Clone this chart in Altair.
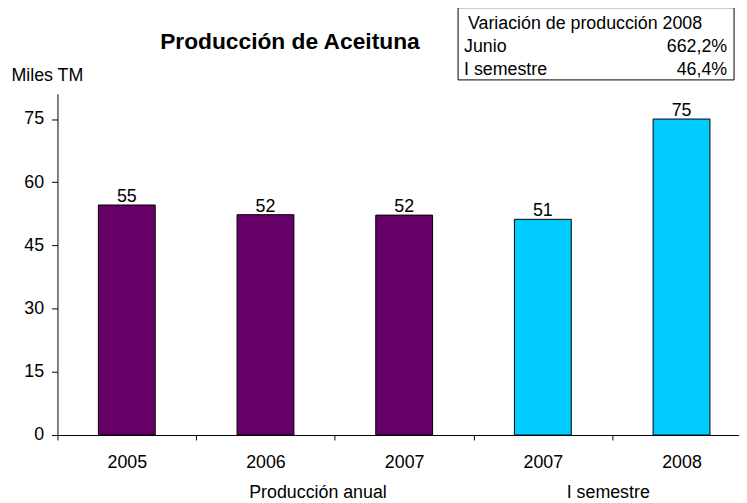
import json
import altair as alt
import pandas as pd

# ---- data ----
years = ["2005", "2006", "2007", "2007", "2008"]
values = [54.6, 52.3, 52.2, 51.2, 75.0]
groups = ["Producción anual", "Producción anual", "Producción anual", "I semestre", "I semestre"]
group_names = ["Producción anual", "I semestre"]
group_colors = ["#660066", "#00CCFF"]
y_ticks = [0, 15, 30, 45, 60, 75]

chart_title = "Producción de Aceituna"
table_header = "Variación de producción 2008"
table_rows = ["Junio", "I semestre"]
table_vals = ["662,2%", "46,4%"]

FONT = "Liberation Sans"
FS = 18

df = pd.DataFrame({"idx": list(range(len(years))), "year": years, "value": values, "group": groups})

label_expr = json.dumps(years).replace('"', "'") + "[datum.value]"

x_enc = alt.X(
    "idx:O",
    scale=alt.Scale(paddingInner=0, paddingOuter=0, range=[0, 701]),
    axis=alt.Axis(
        title=None, labelAngle=0, labelExpr=label_expr, tickBand="extent",
        tickSize=5, labelPadding=14, labelFontSize=FS, labelFont=FONT,
        labelColor="black", domainColor="black", tickColor="black", grid=False,
    ),
)
y_enc = alt.Y(
    "value:Q",
    scale=alt.Scale(domain=[0, 81], nice=False),
    axis=alt.Axis(
        values=y_ticks, tickSize=6, labelPadding=8, labelFontSize=FS, labelFont=FONT,
        labelColor="black", domainColor="black", tickColor="black", grid=False,
        title="Miles TM", titleAngle=0, titleAlign="left", titleBaseline="alphabetic",
        titleX=-47, titleY=-13, titleFontSize=FS, titleFont=FONT, titleFontWeight="normal",
        titleColor="black",
    ),
)

base = alt.Chart(df)

bars = base.mark_bar(width=alt.RelativeBandSize(0.41), stroke="black", strokeWidth=1).encode(
    x=x_enc,
    y=y_enc,
    color=alt.Color("group:N", scale=alt.Scale(domain=group_names, range=group_colors), legend=None),
)

labels = base.mark_text(baseline="alphabetic", dy=-3, fontSize=FS, font=FONT, color="black").encode(
    x=alt.X("idx:O"),
    y=alt.Y("value:Q"),
    text=alt.Text("value:Q", format=".0f"),
)

# group labels under the axis
gdf = pd.DataFrame({"idx": [2, 4], "label": group_names, "shift": [-17, -4]})
group_layers = []
for i in range(len(group_names)):
    sub = gdf.iloc[[i]]
    group_layers.append(
        alt.Chart(sub).mark_text(baseline="alphabetic", align="center", fontSize=FS, font=FONT,
                                 color="black", dx=int(sub["shift"].iloc[0])).encode(
            x=alt.X("idx:O", bandPosition=0),
            y=alt.value(409),
            text="label:N",
        )
    )

# chart title
title_df = pd.DataFrame({"t": [chart_title]})
title_layer = alt.Chart(title_df).mark_text(
    align="center", baseline="alphabetic", fontSize=23, font=FONT, fontWeight="bold", color="black"
).encode(x=alt.value(235), y=alt.value(-45), text="t:N")

# table box at top right
box_df = pd.DataFrame({"t": [table_header]})
box = alt.Chart(box_df).mark_rect(fill="white", stroke="black", strokeWidth=1).encode(
    x=alt.value(405), x2=alt.value(684), y=alt.value(-87), y2=alt.value(-14)
)
header = alt.Chart(box_df).mark_text(align="left", baseline="alphabetic", fontSize=FS, font=FONT,
                                      color="black").encode(
    x=alt.value(415), y=alt.value(-65), text="t:N"
)
row_layers = []
row_y = [-42, -19]
for i, (r, v) in enumerate(zip(table_rows, table_vals)):
    rdf = pd.DataFrame({"r": [r], "v": [v]})
    row_layers.append(
        alt.Chart(rdf).mark_text(align="left", baseline="alphabetic", fontSize=FS, font=FONT,
                                 color="black").encode(x=alt.value(411), y=alt.value(row_y[i]), text="r:N")
    )
    row_layers.append(
        alt.Chart(rdf).mark_text(align="right", baseline="alphabetic", fontSize=FS, font=FONT,
                                 color="black").encode(x=alt.value(677), y=alt.value(row_y[i]), text="v:N")
    )

chart = alt.layer(bars, labels, *group_layers, title_layer, box, header, *row_layers).properties(
    width=689,
    height=345,
    padding={"left": 50, "top": 84, "right": 0, "bottom": 66},
    autosize=alt.AutoSizeParams(type="none"),
    background="white",
).configure_view(stroke=None)

chart.save("out.html", embed_options={"renderer": "svg", "actions": False})
